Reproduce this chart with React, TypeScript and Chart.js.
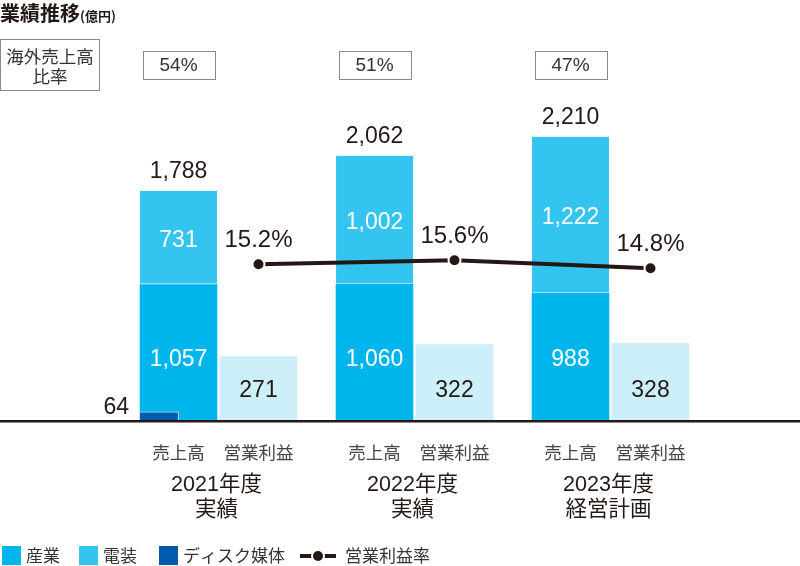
import React, { useEffect, useRef } from 'react';
import Chart from 'chart.js/auto';

// 業績推移（億円）
const fiscalYears = ['2021年度', '2022年度', '2023年度'];
const yearNotes = ['実績', '実績', '経営計画'];
const barNames = ['売上高', '営業利益'];
const industrySales = [1057, 1060, 988];
const automotiveSales = [731, 1002, 1222];
const diskSales = [64, null, null];
const operatingProfit = [271, 322, 328];
const profitMargin = [15.2, 15.6, 14.8];
const overseasRatio = [54, 51, 47];

const seriesNames = ['産業', '電装', 'ディスク媒体', '営業利益率'];

const COLORS = {
  industry: '#00B5EC',
  automotive: '#33C4F0',
  disk: '#005BAC',
  profit: '#CDEFFA',
  ink: '#231815',
  box: '#8a8a8a',
};

const FONT = '"Liberation Sans", "Noto Sans CJK JP", sans-serif';
const JP_FONT = '"Noto Sans CJK JP", sans-serif';

const WIDTH = 800;
const HEIGHT = 566;
const PLOT_LEFT = 120.5;
const PLOT_RIGHT = 708.5;
const PLOT_TOP = 8; // chart.js leaves this much above the plot area
const PLOT_BOTTOM = 420;
const GROUP_PCT = 0.816; // share of a year slot taken by the two bars
const BAR_PCT = 0.9625;

// vertical scales (px per unit) for sales, profit and margin
const plotH = PLOT_BOTTOM - PLOT_TOP;
const SALES_PX = 0.1282;
const PROFIT_PX = 0.234;
const MARGIN_PX = 10;
const MARGIN_MIN = -0.37;

const catW = (PLOT_RIGHT - PLOT_LEFT) / fiscalYears.length;
const salesBarW = ((catW * GROUP_PCT) / 2) * BAR_PCT;
const diskBarW = salesBarW / 2;
// bar centres as offsets from the year position (in year units)
const salesShift = -GROUP_PCT / 4;
const profitShift = GROUP_PCT / 4;
const diskShift = salesShift - (salesBarW / 2 - diskBarW / 2) / catW;

const fmt = (v: number) => v.toLocaleString('en-US');
const at = (shift: number, values: (number | null)[]) =>
  values.map((v, i) => ({ x: i + shift, y: v }));

const decorPlugin = {
  id: 'decor',
  afterDraw(chart: any) {
    const ctx: CanvasRenderingContext2D = chart.ctx;
    const xScale = chart.scales.x;
    const ind = chart.getDatasetMeta(0).data;
    const auto = chart.getDatasetMeta(1).data;
    const disk = chart.getDatasetMeta(2).data;
    const prof = chart.getDatasetMeta(3).data;
    const rate = chart.getDatasetMeta(4).data;

    ctx.save();

    // baseline
    ctx.fillStyle = COLORS.ink;
    ctx.fillRect(0, PLOT_BOTTOM, WIDTH, 2.5);

    // title
    ctx.textAlign = 'left';
    ctx.textBaseline = 'alphabetic';
    ctx.font = `bold 20px ${JP_FONT}`;
    ctx.fillText('業績推移', 0, 21);
    ctx.font = `bold 13px ${JP_FONT}`;
    ctx.fillText('(億円)', 80, 21);

    // overseas ratio header box
    ctx.strokeStyle = COLORS.box;
    ctx.lineWidth = 1;
    ctx.strokeRect(0.5, 39.5, 99, 51);
    ctx.textAlign = 'center';
    ctx.textBaseline = 'middle';
    ctx.fillStyle = '#333';
    ctx.font = `17.5px ${JP_FONT}`;
    ctx.fillText('海外売上高', 50, 56);
    ctx.fillText('比率', 50, 76);

    ctx.font = `19px ${FONT}`;
    overseasRatio.forEach((r, i) => {
      const cx = ind[i].x;
      ctx.strokeRect(Math.round(cx - 36) + 0.5, 51.5, 72, 28);
      ctx.fillText(`${r}%`, cx, 66);
    });

    // bar labels
    ctx.font = `23px ${FONT}`;
    industrySales.forEach((v, i) => {
      const b = ind[i];
      ctx.fillStyle = '#fff';
      ctx.fillText(fmt(v), b.x, b.base - 60);
      const a = auto[i];
      ctx.fillText(fmt(automotiveSales[i]), a.x, (a.y + a.base) / 2 + 3);
      ctx.fillStyle = COLORS.ink;
      ctx.fillText(fmt(v + automotiveSales[i]), a.x, a.y - 19);
      const p = prof[i];
      ctx.fillText(fmt(operatingProfit[i]), p.x, p.base - 29);
    });
    diskSales.forEach((v, i) => {
      if (v == null) return;
      const d = disk[i];
      ctx.textAlign = 'right';
      ctx.fillText(fmt(v), d.x - d.width / 2 - 11, d.y - 4);
      ctx.textAlign = 'center';
    });
    ctx.font = `24px ${FONT}`;
    profitMargin.forEach((v, i) => {
      const pt = rate[i];
      ctx.fillText(`${v.toFixed(1)}%`, pt.x, pt.y - 23.5);
    });

    // category labels
    ctx.fillStyle = '#444';
    ctx.font = `17.5px ${JP_FONT}`;
    fiscalYears.forEach((_, i) => {
      ctx.fillText(barNames[0], ind[i].x, 452);
      ctx.fillText(barNames[1], prof[i].x, 452);
    });
    ctx.fillStyle = COLORS.ink;
    ctx.font = `21.5px ${FONT}`;
    fiscalYears.forEach((y, i) => {
      const cx = xScale.getPixelForValue(i) - 2;
      ctx.fillText(y, cx, 485);
      ctx.fillText(yearNotes[i], cx, 510);
    });

    // legend
    ctx.textAlign = 'left';
    ctx.font = `17px ${JP_FONT}`;
    const swatches = [COLORS.industry, COLORS.automotive, COLORS.disk];
    const swatchX = [2, 79, 159];
    swatches.forEach((c, i) => {
      ctx.fillStyle = c;
      ctx.fillRect(swatchX[i], 546, 19, 19);
      ctx.fillStyle = '#333';
      ctx.fillText(seriesNames[i], swatchX[i] + 24, 556);
    });
    ctx.fillStyle = COLORS.ink;
    ctx.fillRect(300, 554, 36, 4);
    ctx.beginPath();
    ctx.fillStyle = '#fff';
    ctx.arc(318, 556, 7, 0, Math.PI * 2);
    ctx.fill();
    ctx.beginPath();
    ctx.fillStyle = COLORS.ink;
    ctx.arc(318, 556, 5, 0, Math.PI * 2);
    ctx.fill();
    ctx.fillStyle = '#333';
    ctx.fillText(seriesNames[3], 345, 556);

    ctx.restore();
  },
};

const App: React.FC = () => {
  const chartRef = useRef<HTMLCanvasElement>(null);
  const chartInstance = useRef<Chart | null>(null);

  useEffect(() => {
    if (!chartRef.current) return;
    if (chartInstance.current) {
      chartInstance.current.destroy();
    }
    const ctx = chartRef.current.getContext('2d');
    if (!ctx) return;

    chartInstance.current = new Chart(ctx, {
      type: 'bar',
      data: {
        datasets: [
          {
            label: seriesNames[0],
            data: at(salesShift, industrySales),
            backgroundColor: COLORS.industry,
            barThickness: salesBarW,
            grouped: false,
            stack: 'sales',
            yAxisID: 'y',
            order: 2,
          },
          {
            label: seriesNames[1],
            data: at(salesShift, automotiveSales),
            backgroundColor: COLORS.automotive,
            borderColor: 'rgba(255,255,255,0.75)',
            borderWidth: { top: 0, left: 0, right: 0, bottom: 1.2 },
            borderSkipped: false,
            barThickness: salesBarW,
            grouped: false,
            stack: 'sales',
            yAxisID: 'y',
            order: 2,
          },
          {
            label: seriesNames[2],
            data: at(diskShift, diskSales),
            backgroundColor: COLORS.disk,
            borderColor: 'rgba(200,235,250,0.9)',
            borderWidth: { top: 1, left: 0, right: 1, bottom: 0 },
            borderSkipped: false,
            barThickness: diskBarW,
            grouped: false,
            stack: 'disk',
            yAxisID: 'y',
            order: 1,
          },
          {
            label: '営業利益',
            data: at(profitShift, operatingProfit),
            backgroundColor: COLORS.profit,
            barThickness: salesBarW,
            grouped: false,
            stack: 'profit',
            yAxisID: 'yp',
            order: 2,
          },
          {
            type: 'line',
            label: seriesNames[3],
            data: at(profitShift, profitMargin),
            borderColor: COLORS.ink,
            borderWidth: 4,
            pointRadius: 6,
            pointBackgroundColor: COLORS.ink,
            pointBorderColor: '#fff',
            pointBorderWidth: 2,
            tension: 0,
            yAxisID: 'y2',
            order: 0,
          } as any,
        ],
      },
      options: {
        responsive: false,
        animation: false,
        layout: {
          padding: {
            left: PLOT_LEFT,
            right: WIDTH - PLOT_RIGHT,
            top: 0,
            bottom: HEIGHT - PLOT_BOTTOM,
          },
        },
        plugins: {
          legend: { display: false },
          tooltip: { enabled: false },
        },
        scales: {
          x: {
            type: 'linear',
            display: false,
            offset: false,
            min: -0.5,
            max: fiscalYears.length - 0.5,
          },
          y: { display: false, stacked: true, min: 0, max: plotH / SALES_PX },
          yp: { display: false, stacked: true, min: 0, max: plotH / PROFIT_PX },
          y2: { display: false, min: MARGIN_MIN, max: MARGIN_MIN + plotH / MARGIN_PX },
        },
      },
      plugins: [decorPlugin],
    });

    return () => {
      if (chartInstance.current) {
        chartInstance.current.destroy();
        chartInstance.current = null;
      }
    };
  }, []);

  return (
    <div style={{ position: 'absolute', left: 0, top: 0, width: WIDTH, height: HEIGHT, background: '#fff' }}>
      <canvas ref={chartRef} width={WIDTH} height={HEIGHT}></canvas>
    </div>
  );
};

export default App;
